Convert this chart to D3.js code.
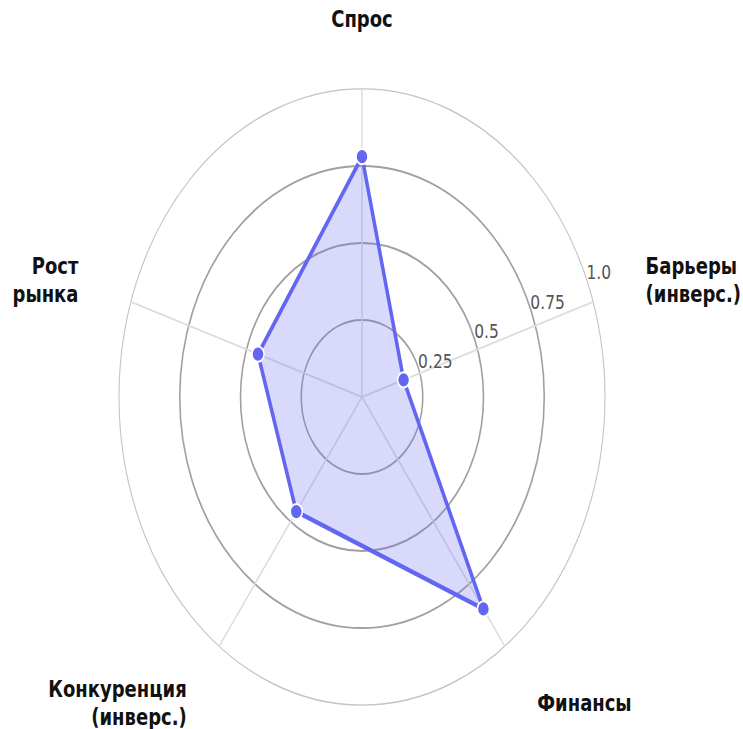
<!DOCTYPE html>
<html>
<head>
<meta charset="utf-8">
<script src="https://cdn.jsdelivr.net/npm/d3@7"></script>
<style>
  html, body { margin: 0; padding: 0; background: #fff; }
  svg { display: block; font-family: "DejaVu Sans", sans-serif; }
</style>
</head>
<body>
<div id="container"></div>
<script>
const categories = [
  ["Спрос"],
  ["Барьеры", "(инверс.)"],
  ["Финансы"],
  ["Конкуренция", "(инверс.)"],
  ["Рост", "рынка"]
];
const values = [0.78, 0.18, 0.85, 0.46, 0.45];
const ticks = [0.25, 0.5, 0.75, 1.0];
const tickLabels = ["0.25", "0.5", "0.75", "1.0"];

const { PI, sin, cos } = Math;
const TAU = 2 * PI;
const W = 743, H = 729;
const cx = 362, cy = 397;
const R = 243;
const stretch = 1.268;
const color = "#6366f1";

const setAttrs = (el, attrs) =>
  Object.entries(attrs).reduce((acc, [key, val]) => acc.attr(key, val), el);

const svg = d3.select("#container").append("svg");
setAttrs(svg, { width: W, height: H, viewBox: `0 0 ${W} ${H}` });

const g = svg.append("g");
setAttrs(g, { transform: `translate(${cx},${cy}) scale(1,${stretch})` });

const r = d3.scaleLinear().domain([0, 1]).range([0, R]);
const angle = d3.scaleLinear().domain([0, categories.length]).range([0, TAU]);
// angle 0 = up, clockwise
const pt = (a, rad) => [rad * sin(a), -rad * cos(a)];

// rings
g.selectAll("circle.ring")
  .data(ticks)
  .join("circle")
  .attr("class", "ring")
  .attr("r", (d) => r(d))
  .attr("fill", "none")
  .attr("stroke", (d) => (d === 1 ? "#c4c4c4" : "#a0a0a0"))
  .attr("stroke-width", (d) => (d === 1 ? 1.1 : 1.6));

// spokes
g.selectAll("line.spoke")
  .data(categories)
  .join("line")
  .attr("class", "spoke")
  .attr("x1", 0)
  .attr("y1", 0)
  .attr("x2", (d, i) => pt(angle(i), r(1))[0])
  .attr("y2", (d, i) => pt(angle(i), r(1))[1])
  .attr("stroke", "#dddddd")
  .attr("stroke-width", 1.5);

// tick labels
const labelAng = (67.5 * PI) / 180;
g.selectAll("text.tick")
  .data(ticks)
  .join("text")
  .attr("class", "tick")
  .attr("x", (d) => pt(labelAng, r(d))[0])
  .attr("y", (d) => pt(labelAng, r(d))[1])
  .attr("fill", "#555")
  .attr("font-size", 15.5)
  .text((d, i) => tickLabels[i]);

// area
const radial = d3
  .lineRadial()
  .angle((d, i) => angle(i))
  .radius((d) => r(d))
  .curve(d3.curveLinearClosed);

g.append("path")
  .datum(values)
  .attr("d", radial)
  .attr("fill", color)
  .attr("fill-opacity", 0.25)
  .attr("stroke", color)
  .attr("stroke-width", 3.5)
  .attr("stroke-linejoin", "round");

g.selectAll("circle.pt")
  .data(values)
  .join("circle")
  .attr("class", "pt")
  .attr("cx", (d, i) => pt(angle(i), r(d))[0])
  .attr("cy", (d, i) => pt(angle(i), r(d))[1])
  .attr("r", 6)
  .attr("fill", color)
  .attr("stroke", "#fff")
  .attr("stroke-width", 1.5);

// category labels
const labR = R * 1.227;
const lineH = 22;
categories.forEach((lines, i) => {
  const a = angle(i);
  const [x, y] = pt(a, labR);
  const s = sin(a);
  const anchor = s > 0.01 ? "start" : s < -0.01 ? "end" : "middle";
  const t = g.append("text");
  setAttrs(t, {
    x,
    y,
    "text-anchor": anchor,
    "font-size": 18,
    "font-weight": "bold",
    fill: "#111"
  });
  lines.forEach((line, j) => {
    t.append("tspan")
      .attr("x", x)
      .attr("y", y + (j - (lines.length - 1) / 2) * lineH)
      .attr("dominant-baseline", "central")
      .text(line);
  });
});
</script>
</body>
</html>
